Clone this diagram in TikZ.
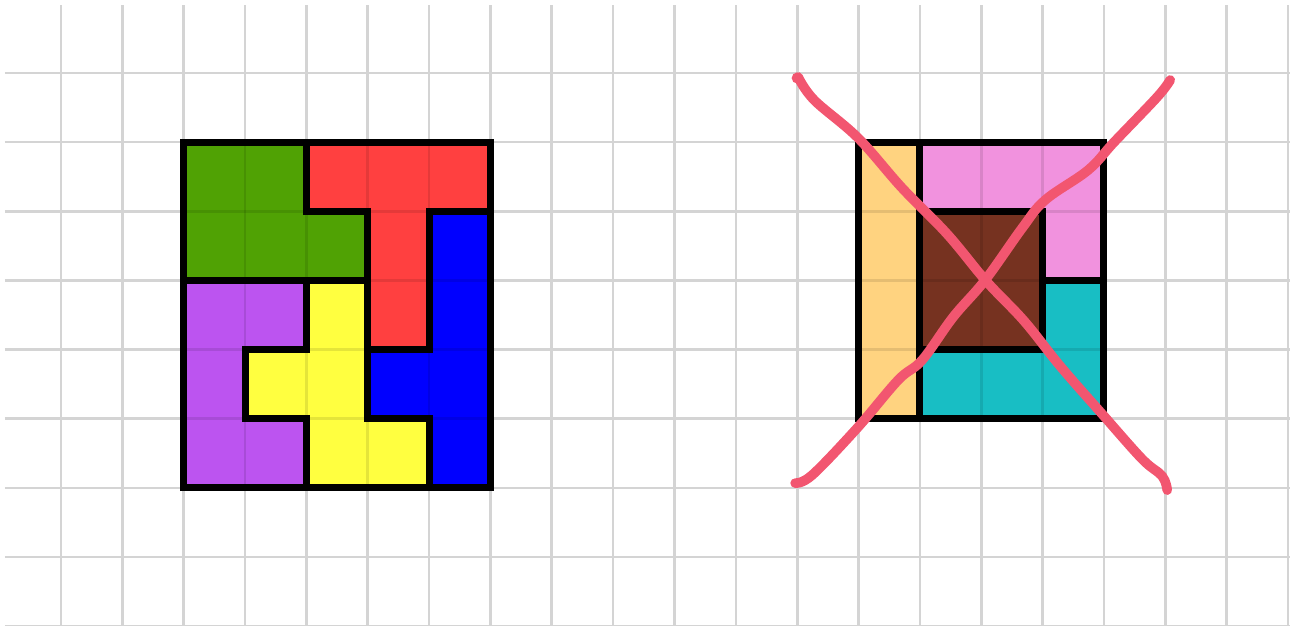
\documentclass[tikz,border=0pt]{standalone}
\usepackage{xcolor}
\usepackage{tikz}
\definecolor{gridgray}{RGB}{212,212,212}
\definecolor{pgreen}{RGB}{80,162,4}
\definecolor{pred}{RGB}{255,64,64}
\definecolor{pblue}{RGB}{0,0,255}
\definecolor{ppurple}{RGB}{188,84,240}
\definecolor{pyellow}{RGB}{255,255,64}
\definecolor{porange}{RGB}{255,211,128}
\definecolor{ppink}{RGB}{241,146,222}
\definecolor{pbrown}{RGB}{118,50,32}
\definecolor{pcyan}{RGB}{24,190,196}
\definecolor{cross}{RGB}{242,86,112}

\begin{document}
\begin{tikzpicture}[x=1.227cm,y=-1.3828cm,
      gridline/.style={draw=gridgray,line width=1.5pt},
      piece/.style={draw=black,line width=4pt,line join=miter},
      seam/.style={draw=black,opacity=.1,line width=1.5pt},
      strike/.style={draw=cross,line width=5.5pt,line cap=round,line join=round}]
    \useasboundingbox (-0.9943,-1.0558) rectangle (20.033,7.998);
    % squared paper
    \begin{scope}
      \clip (-0.913,-0.983) rectangle (20.033,7.998);
      \foreach \i in {0,...,20} \draw[gridline] (\i,-0.983) -- (\i,7.998);
      \foreach \j in {0,...,8}  \draw[gridline] (-0.913,\j) -- (20.033,\j);
    \end{scope}
    % left square: five pentominoes
    \draw[piece,fill=pgreen]  (2,1) -- (4,1) -- (4,2) -- (5,2) -- (5,3) -- (2,3) -- cycle;
    \draw[piece,fill=pred]    (4,1) -- (7,1) -- (7,2) -- (6,2) -- (6,4) -- (5,4) -- (5,2) -- (4,2) -- cycle;
    \draw[piece,fill=pblue]   (6,2) -- (7,2) -- (7,6) -- (6,6) -- (6,5) -- (5,5) -- (5,4) -- (6,4) -- cycle;
    \draw[piece,fill=ppurple] (2,3) -- (4,3) -- (4,4) -- (3,4) -- (3,5) -- (4,5) -- (4,6) -- (2,6) -- cycle;
    \draw[piece,fill=pyellow] (4,3) -- (5,3) -- (5,5) -- (6,5) -- (6,6) -- (4,6) -- (4,5) -- (3,5) -- (3,4) -- (4,4) -- cycle;
    % right square: four tetrominoes
    \draw[piece,fill=porange] (13,1) -- (14,1) -- (14,5) -- (13,5) -- cycle;
    \draw[piece,fill=ppink]   (14,1) -- (17,1) -- (17,3) -- (16,3) -- (16,2) -- (14,2) -- cycle;
    \draw[piece,fill=pbrown]  (14,2) -- (16,2) -- (16,4) -- (14,4) -- cycle;
    \draw[piece,fill=pcyan]   (16,3) -- (17,3) -- (17,5) -- (14,5) -- (14,4) -- (16,4) -- cycle;
    % grid showing through the pieces
    \foreach \i in {3,...,6} \draw[seam] (\i,1) -- (\i,6);
    \foreach \j in {2,...,5} \draw[seam] (2,\j) -- (7,\j);
    \foreach \i in {14,...,16} \draw[seam] (\i,1) -- (\i,5);
    \foreach \j in {2,...,4} \draw[seam] (13,\j) -- (17,\j);
    % crossed out by hand
    \begin{scope}[shift={(-0.9943,-1.0558)},x=0.02cm,y=-0.02cm]
      \draw[strike] plot[smooth,tension=.6] coordinates {(798,77) (814,100) (858,138)
        (902,188) (947,234) (986,281) (1024,321) (1060,366) (1102,414) (1142,459)
        (1162,476) (1167,490)};
      \draw[strike] plot[smooth,tension=.6] coordinates {(795,483) (812,475) (857,428)
        (898,380) (922,360) (953,317) (985,280) (1022,228) (1045,200) (1088,170)
        (1114,142) (1157,97) (1170,80)};
      \fill[cross] (797,78) circle (5.5);
    \end{scope}
  \end{tikzpicture}
\end{document}
